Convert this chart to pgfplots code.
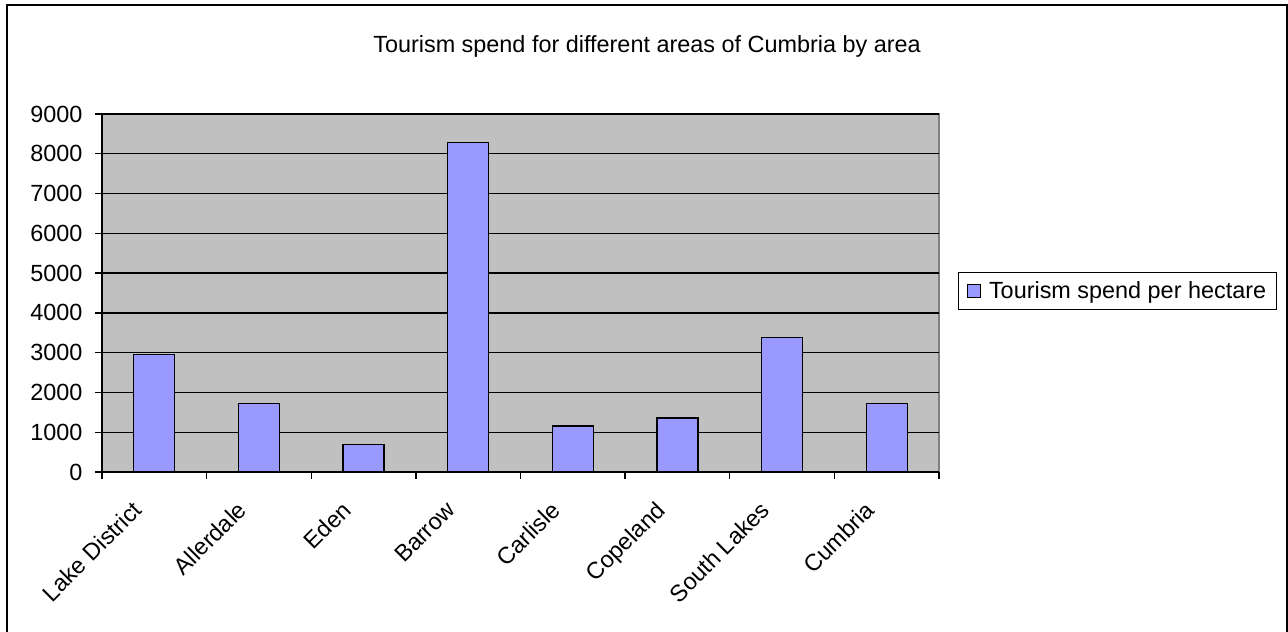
\documentclass[border=0pt]{standalone}
\usepackage{pgfplots}
\pgfplotsset{compat=1.18}
\usepackage{fontspec}
\setmainfont{Liberation Sans}
\definecolor{barc}{RGB}{153,153,255}
\definecolor{plotbg}{RGB}{192,192,192}
\newcommand{\cf}{\fontsize{23.5}{28}\selectfont}
\begin{document}
\begin{tikzpicture}
\path[use as bounding box] (0,0) rectangle (1288bp,632bp);
\draw[line width=2bp] (7bp,-3bp) -- (7bp,627bp) -- (1286.5bp,627bp) -- (1286.5bp,-3bp);
\node[font=\cf] at (647bp,586bp) {Tourism spend for different areas of Cumbria by area};
\begin{axis}[
  at={(102bp,160bp)}, anchor=south west,
  scale only axis, width=837bp, height=358bp,
  xmin=-0.5, xmax=7.5, ymin=0, ymax=9000,
  ytick={0,1000,...,9000},
  xtick={0,...,7},
  xticklabels={Lake District,Allerdale,Eden,Barrow,Carlisle,Copeland,South Lakes,Cumbria},
  minor xtick={-0.5,0.5,...,7.5},
  major x tick style={draw=none},
  axis lines*=left,
  axis line style={line width=1.3bp, black},
  tick style={line width=1.3bp, black},
  tick align=outside,
  major tick length=7bp, minor tick length=7bp,
  ymajorgrids, grid style={line width=1.3bp, black},
  axis background/.style={fill=plotbg, draw=gray, line width=1.3bp},
  /pgf/number format/1000 sep={},
  /pgf/number format/assume math mode=true,
  tick label style={font=\cf},
  yticklabel style={xshift=-9bp},
  xticklabel style={xshift=-23bp, yshift=-16bp, rotate=45, anchor=north east},
  ybar, bar width=41bp,
  legend style={at={(1.0227,0.5056)}, anchor=west, draw=black, line width=1bp, font=\cf,
    inner xsep=8bp, inner ysep=7.5bp},
  legend image code/.code={\draw[fill=barc, draw=black, line width=1bp] (0bp,-6.5bp) rectangle (13bp,6.5bp); \path[draw=none, fill=none] (13bp,0bp) -- (20bp,0bp);},
]
\addplot[fill=barc, draw=black, line width=1.3bp] coordinates {
 (0,2950) (1,1730) (2,700) (3,8280) (4,1160) (5,1360) (6,3380) (7,1730)};
\addlegendentry{Tourism spend per hectare}
\end{axis}
\end{tikzpicture}
\end{document}
